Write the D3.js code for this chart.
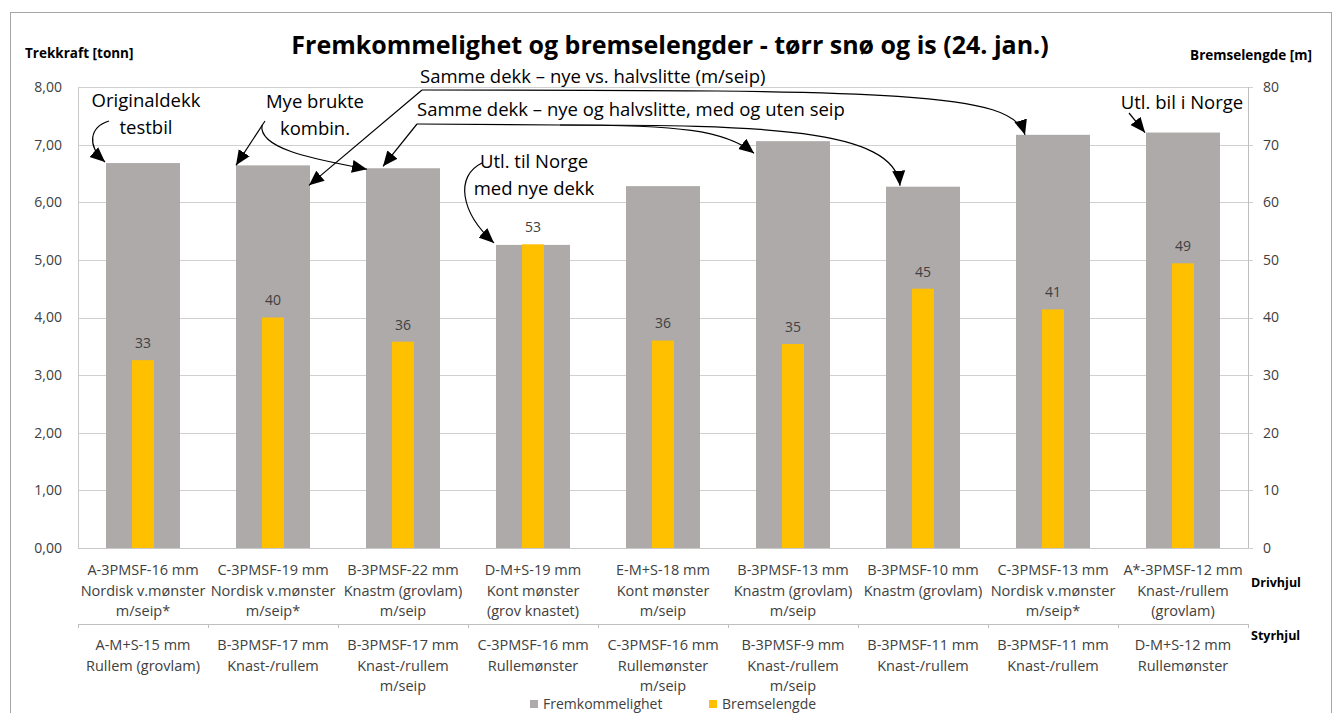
<!DOCTYPE html>
<html>
<head>
<meta charset="utf-8">
<script src="https://cdn.jsdelivr.net/npm/d3@7"></script>
<style>
  body { margin: 0; background: #fff; }
  svg { font-family: "Open Sans", "Liberation Sans", sans-serif; }
</style>
</head>
<body>
<div id="chart"></div>
<script>
// chart data
const drivhjul = [
    ["A-3PMSF-16 mm", "Nordisk v.mønster", "m/seip*"],
    ["C-3PMSF-19 mm", "Nordisk v.mønster", "m/seip*"],
    ["B-3PMSF-22 mm", "Knastm (grovlam)", "m/seip"],
    ["D-M+S-19 mm", "Kont mønster", "(grov knastet)"],
    ["E-M+S-18 mm", "Kont mønster", "m/seip"],
    ["B-3PMSF-13 mm", "Knastm (grovlam)", "m/seip"],
    ["B-3PMSF-10 mm", "Knastm (grovlam)"],
    ["C-3PMSF-13 mm", "Nordisk v.mønster", "m/seip*"],
    ["A*-3PMSF-12 mm", "Knast-/rullem", "(grovlam)"]
];
const styrhjul = [
    ["A-M+S-15 mm", "Rullem (grovlam)"],
    ["B-3PMSF-17 mm", "Knast-/rullem"],
    ["B-3PMSF-17 mm", "Knast-/rullem", "m/seip"],
    ["C-3PMSF-16 mm", "Rullemønster"],
    ["C-3PMSF-16 mm", "Rullemønster", "m/seip"],
    ["B-3PMSF-9 mm", "Knast-/rullem", "m/seip"],
    ["B-3PMSF-11 mm", "Knast-/rullem"],
    ["B-3PMSF-11 mm", "Knast-/rullem"],
    ["D-M+S-12 mm", "Rullemønster"]
];
const fremkommelighet = [6.68, 6.64, 6.59, 5.26, 6.28, 7.06, 6.27, 7.17, 7.21];
const bremselengde = [32.6, 40.0, 35.8, 52.7, 36.0, 35.4, 45.0, 41.4, 49.4];
const leftTicks = [0, 1, 2, 3, 4, 5, 6, 7, 8];
const rightTicks = [0, 10, 20, 30, 40, 50, 60, 70, 80];
const seriesNames = ["Fremkommelighet", "Bremselengde"];

const W = 1338, H = 713;
const plot = {left: 78, right: 1248, top: 87, bottom: 548};
const grey = "#AEAAAA", yellow = "#FFC000", textCol = "#404040";

const svg = d3.select("#chart").append("svg")
    .attr("width", W).attr("height", H);

// outer frame
svg.append("rect")
    .attr("x", 10.5).attr("y", 12.5)
    .attr("width", 1321).attr("height", 720)
    .attr("fill", "none").attr("stroke", "#A6A6A6");

const idx = d3.range(drivhjul.length);
const x = d3.scaleBand().domain(idx).range([plot.left, plot.right]);
const yL = d3.scaleLinear().domain([0, 8]).range([plot.bottom, plot.top]);
const yR = d3.scaleLinear().domain([0, 80]).range([plot.bottom, plot.top]);

const greyW = 74, yelW = 22;

// gridlines
svg.append("g").selectAll("line").data(leftTicks).join("line")
    .attr("x1", plot.left).attr("x2", plot.right + 5)
    .attr("y1", d => Math.round(yL(d)) + 0.5).attr("y2", d => Math.round(yL(d)) + 0.5)
    .attr("stroke", "#D0D0D0");

// plot borders
svg.append("line").attr("x1", plot.left + 0.5).attr("x2", plot.left + 0.5)
    .attr("y1", plot.top).attr("y2", plot.bottom).attr("stroke", "#C8C8C8");
svg.append("line").attr("x1", plot.right + 0.5).attr("x2", plot.right + 0.5)
    .attr("y1", plot.top).attr("y2", plot.bottom).attr("stroke", "#BFBFBF");

// left axis labels
svg.append("g").selectAll("text").data(leftTicks).join("text")
    .attr("x", 62).attr("y", d => yL(d)).attr("dy", "0.35em")
    .attr("text-anchor", "end").attr("font-size", 14).attr("fill", textCol)
    .text(d => d3.format(".2f")(d).replace(".", ","));

// right axis labels
svg.append("g").selectAll("text").data(rightTicks).join("text")
    .attr("x", 1263).attr("y", d => yR(d)).attr("dy", "0.35em")
    .attr("font-size", 14).attr("fill", textCol)
    .text(d => d);

// bars
svg.append("g").selectAll("rect").data(fremkommelighet).join("rect")
    .attr("x", (d, i) => x(i) + (x.bandwidth() - greyW) / 2)
    .attr("width", greyW)
    .attr("y", d => yL(d)).attr("height", d => yL(0) - yL(d))
    .attr("fill", grey);

svg.append("g").selectAll("rect").data(bremselengde).join("rect")
    .attr("x", (d, i) => x(i) + (x.bandwidth() - yelW) / 2)
    .attr("width", yelW)
    .attr("y", d => yR(d)).attr("height", d => yR(0) - yR(d))
    .attr("fill", yellow);

svg.append("g").selectAll("text").data(bremselengde).join("text")
    .attr("x", (d, i) => x(i) + x.bandwidth() / 2)
    .attr("y", d => yR(d) - 17).attr("dy", "0.35em")
    .attr("text-anchor", "middle").attr("font-size", 14).attr("fill", textCol)
    .text(d => d3.format(".0f")(d));

// x axis baseline
svg.append("line").attr("x1", plot.left).attr("x2", plot.right)
    .attr("y1", plot.bottom + 0.5).attr("y2", plot.bottom + 0.5).attr("stroke", "#C8C8C8");

// category labels, two levels
function catLabels(rows, y0) {
    const g = svg.append("g").selectAll("text").data(rows).join("text")
        .attr("text-anchor", "middle").attr("font-size", 14.5).attr("fill", textCol);
    g.selectAll("tspan").data((d, i) => d.map(s => ({s, i}))).join("tspan")
        .attr("x", d => x(d.i) + x.bandwidth() / 2)
        .attr("y", (d, j) => y0 + j * 20.5)
        .attr("dy", "0.35em")
        .text(d => d.s);
}
catLabels(drivhjul, 570);
catLabels(styrhjul, 645);

// divider between levels
svg.append("line").attr("x1", plot.left).attr("x2", plot.right)
    .attr("y1", 624.5).attr("y2", 624.5).attr("stroke", "#BFBFBF");
svg.append("g").selectAll("line").data(d3.range(drivhjul.length + 1)).join("line")
    .attr("x1", d => (d < drivhjul.length ? x(d) : plot.right) + 0.5)
    .attr("x2", d => (d < drivhjul.length ? x(d) : plot.right) + 0.5)
    .attr("y1", 624).attr("y2", 628).attr("stroke", "#BFBFBF");

svg.append("text").attr("x", 1251).attr("y", 583).attr("dy", "0.35em")
    .attr("font-size", 12.5).attr("font-weight", "bold").attr("fill", "#000").text("Drivhjul");
svg.append("text").attr("x", 1251).attr("y", 636).attr("dy", "0.35em")
    .attr("font-size", 12.5).attr("font-weight", "bold").attr("fill", "#000").text("Styrhjul");

// titles
svg.append("text").attr("x", 670).attr("y", 45).attr("dy", "0.35em")
    .attr("text-anchor", "middle").attr("font-size", 25).attr("font-weight", "bold")
    .text("Fremkommelighet og bremselengder - tørr snø og is (24. jan.)");
svg.append("text").attr("x", 25).attr("y", 53).attr("dy", "0.35em")
    .attr("font-size", 13.5).attr("font-weight", "bold").text("Trekkraft [tonn]");
svg.append("text").attr("x", 1312).attr("y", 55).attr("dy", "0.35em")
    .attr("text-anchor", "end").attr("font-size", 13.5).attr("font-weight", "bold")
    .text("Bremselengde [m]");

// legend
const legend = svg.append("g").selectAll("g").data(seriesNames).join("g")
    .attr("transform", (d, i) => `translate(${[530, 709][i]},704)`);
legend.append("rect").attr("x", 0).attr("y", -4).attr("width", 8).attr("height", 8)
    .attr("fill", (d, i) => [grey, yellow][i]);
legend.append("text").attr("x", 13).attr("dy", "0.35em")
    .attr("font-size", 14).attr("fill", textCol).text(d => d);

// annotations
svg.append("defs").append("marker")
    .attr("id", "arrow").attr("viewBox", "0 -7 15 14")
    .attr("refX", 15).attr("refY", 0)
    .attr("markerWidth", 15).attr("markerHeight", 14)
    .attr("markerUnits", "userSpaceOnUse").attr("orient", "auto")
    .append("path").attr("d", "M0,-6.5L15,0L0,6.5Z").attr("fill", "#000");

const barLeft = i => x(i) + (x.bandwidth() - greyW) / 2;
const barTop = i => yL(fremkommelighet[i]);

const notes = svg.append("g").attr("font-size", 18.5).attr("fill", "#000");
function note(lines, cx, cy, anchor) {
    const t = notes.append("text").attr("text-anchor", anchor || "middle");
    lines.forEach((s, j) => t.append("tspan").attr("x", cx).attr("y", cy + j * 27)
        .attr("dy", "0.35em").text(s));
}
note(["Originaldekk", "testbil"], 146, 101);
note(["Mye brukte", "kombin."], 315, 102);
note(["Samme dekk – nye vs. halvslitte (m/seip)"], 420, 77, "start");
note(["Samme dekk – nye og halvslitte, med og uten seip"], 417, 110, "start");
note(["Utl. til Norge", "med nye dekk"], 534, 162);
note(["Utl. bil i Norge"], 1182, 103);

function arrow(d) {
    svg.append("path").attr("d", d).attr("fill", "none")
        .attr("stroke", "#000").attr("stroke-width", 1.2)
        .attr("marker-end", "url(#arrow)");
}
// Originaldekk
arrow(`M109,121 C90,127 86,145 ${barLeft(0) - 1},${barTop(0) - 1}`);
// Mye brukte -> bar 2 and bar 3
arrow(`M265,121 L${barLeft(1)},${barTop(1)}`);
arrow(`M262,125 C258,150 320,160 ${barLeft(2) + 1},${barTop(2) + 1}`);
// Samme dekk – nye vs. halvslitte
arrow(`M422,90 L${barLeft(1) + greyW - 1},${barTop(1) + 20}`);
arrow(`M422,90 C900,90 1012,92 ${barLeft(7) + 9},${barTop(7)}`);
// Samme dekk – nye og halvslitte
arrow(`M417,124 L${barLeft(2) + 17},${barTop(2) - 2}`);
arrow(`M417,124 L560,125 C680,125 725,130 ${barLeft(5) - 2},${barTop(5) + 12}`);
arrow(`M560,125 C760,125 895,128 ${barLeft(6) + 14},${barTop(6) - 1}`);
// Utl. til Norge
arrow(`M482,163 C455,176 460,212 ${barLeft(3) - 2},${barTop(3) - 2}`);
// Utl. bil i Norge
arrow(`M1129,113 L${barLeft(8) - 1},${barTop(8)}`);
</script>
</body>
</html>
